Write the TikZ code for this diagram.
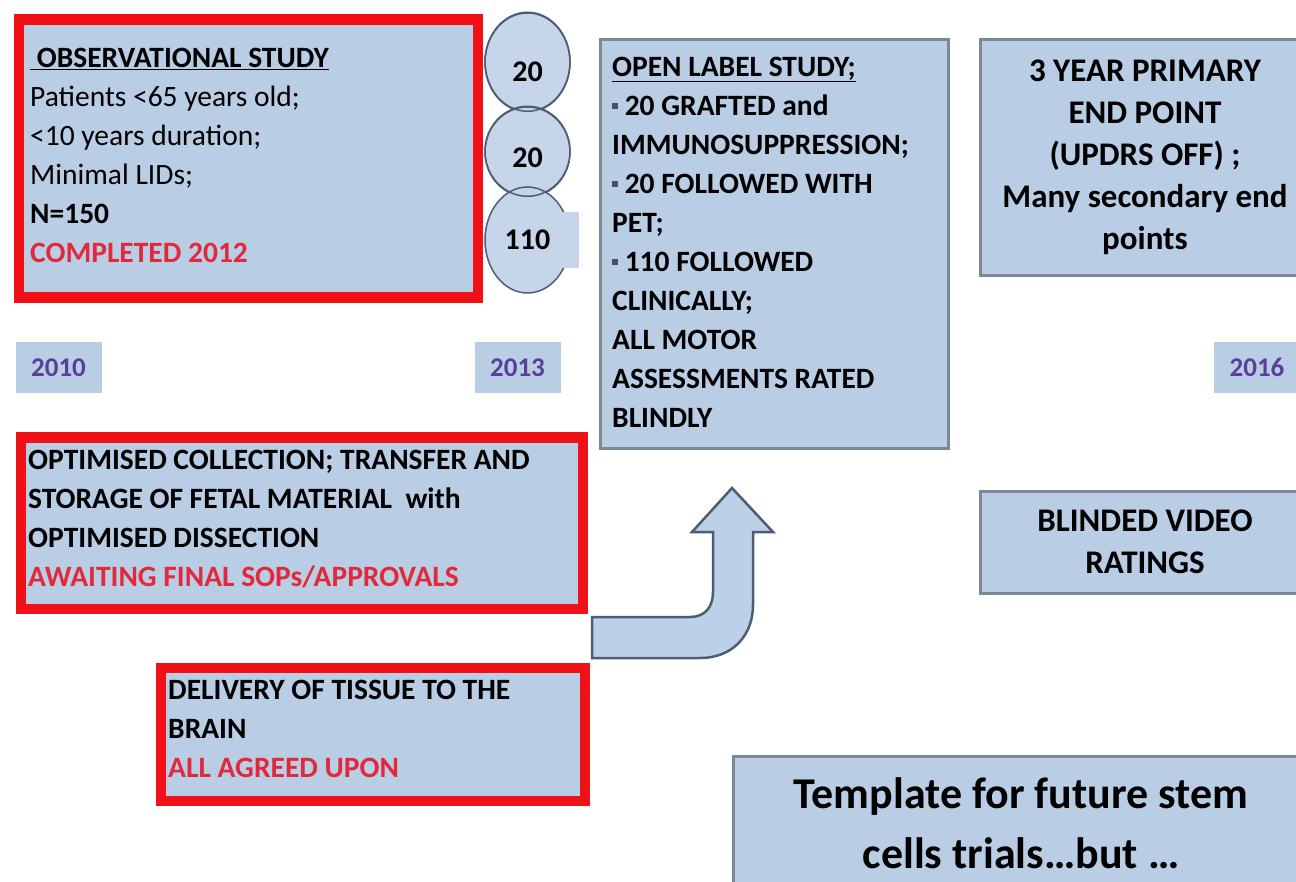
\documentclass[tikz,border=0pt]{standalone}
\usepackage{fontspec}
\setmainfont{Carlito}
\usetikzlibrary{shapes.geometric}
\definecolor{boxfill}{HTML}{B9CDE5}
\definecolor{boxline}{HTML}{7D8896}
\definecolor{redline}{HTML}{F01018}
\definecolor{redtext}{HTML}{E02A3C}
\definecolor{yeartext}{HTML}{5A3F96}
\definecolor{circfill}{HTML}{C6D5EA}
\definecolor{circline}{HTML}{4E5E72}
\definecolor{arrowfill}{HTML}{BCD0E8}
\newcommand{\mystrut}[1]{\rule{0pt}{#1}}
\newcommand{\sqbul}{\textcolor{boxline!60!black}{\rule[0.22em]{0.2em}{0.2em}}}
\begin{document}
\begin{tikzpicture}[x=1pt,y=-1pt,
  redbox/.style={draw=redline, line width=10.5pt, fill=boxfill, anchor=north west, inner sep=0pt},
  graybox/.style={draw=boxline, line width=3pt, fill=boxfill, anchor=north west, inner sep=0pt},
  yearbox/.style={fill=boxfill, inner sep=0pt, minimum width=86pt, minimum height=51pt,
     text=yeartext, font=\bfseries\fontsize{27}{30}\selectfont},
  circ/.style={ellipse, fill=circfill, draw=circline, line width=1.5pt, inner sep=0pt},
  circtxt/.style={inner sep=0pt, font=\bfseries\fontsize{30}{32}\selectfont},
  bodytxt/.style={anchor=north west, inner sep=0pt, align=left, font=\bfseries\fontsize{29.5}{39}\selectfont},
  ctrtxt/.style={anchor=north, inner sep=0pt, align=center, font=\bfseries\fontsize{33}{42}\selectfont},
  bigtxt/.style={anchor=north, inner sep=0pt, align=center, font=\bfseries\fontsize{44}{60}\selectfont},
  blockarrow/.style={fill=arrowfill, draw=circline, line width=2.5pt, line join=miter}
]
\useasboundingbox (0,0) rectangle (1296,882);
\fill[white] (0,0) rectangle (1296,882);

% red-bordered boxes
\node[redbox, minimum width=459pt, minimum height=278pt] (obs) at (13.5,14.5) {};
\node[redbox, minimum width=562pt, minimum height=171pt] (opt) at (15.5,432.5) {};
\node[redbox, minimum width=424pt, minimum height=133pt] (del) at (155.5,662.5) {};

% grey-bordered boxes
\node[graybox, minimum width=348pt, minimum height=408pt] (open) at (598.5,38.5) {};
\node[graybox, minimum width=345pt, minimum height=236pt] (prim) at (978.5,38.5) {};
\node[graybox, minimum width=345pt, minimum height=102pt] (blind) at (978.5,489.5) {};
\node[graybox, minimum width=590pt, minimum height=150pt] (tmpl) at (731.5,754.5) {};

% year labels
\node[yearbox] (y2010) at (58.5,367.5) {2010};
\node[yearbox] (y2013) at (517.5,367.5) {2013};
\node[yearbox] (y2016) at (1257,367.5) {2016};

% circles
\node[circ, minimum width=85pt, minimum height=99pt] (c1) at (527.5,62.5) {};
\node[circ, minimum width=85pt, minimum height=90pt] (c2) at (527.5,152) {};
\node[circ, minimum width=85pt, minimum height=106pt] (c3) at (527.5,240) {};
\draw[circline, line width=1.5pt] (c1.north) arc[start angle=90, end angle=-270, x radius=42.5, y radius=-49.5];
\draw[circline, line width=1.5pt] (c2.north) arc[start angle=90, end angle=-270, x radius=42.5, y radius=-45];
\fill[circfill] (c3.east) ++(-12,-28) rectangle ++(20,56);
\node[circtxt] (n1) at (527.5,72) {20};
\node[circtxt] (n2) at (527.5,158) {20};
\node[circtxt] (n3) at (527.5,240) {110};

% texts
\node[bodytxt] (obstxt) at (30,43) {\mystrut{24pt}\underline{\ OBSERVATIONAL STUDY}\\
  \mdseries Patients <65 years old;\\
  \mdseries <10 years duration;\\
  \mdseries Minimal LIDs;\\
  N=150\\
  \textcolor{redtext}{COMPLETED 2012}};

\node[bodytxt] (opttxt) at (28,445) {\mystrut{24pt}OPTIMISED COLLECTION; TRANSFER AND\\
  STORAGE OF FETAL MATERIAL \ with\\
  OPTIMISED DISSECTION\\
  \textcolor{redtext}{AWAITING FINAL SOPs/APPROVALS}};

\node[bodytxt] (deltxt) at (168,675) {\mystrut{24pt}DELIVERY OF TISSUE TO THE\\
  BRAIN\\
  \textcolor{redtext}{ALL AGREED UPON}};

\node[bodytxt] (opentxt) at (612,52) {\mystrut{24pt}\underline{OPEN LABEL STUDY;}\\
  \sqbul\ 20 GRAFTED and\\
  IMMUNOSUPPRESSION;\\
  \sqbul\ 20 FOLLOWED WITH\\
  PET;\\
  \sqbul\ 110 FOLLOWED\\
  CLINICALLY;\\
  ALL MOTOR\\
  ASSESSMENTS RATED\\
  BLINDLY};

\node[ctrtxt] (primtxt) at (1145,54) {\mystrut{27pt}3 YEAR PRIMARY\\
  END POINT\\
  (UPDRS OFF) ;\\
  Many secondary end\\
  points};

\node[ctrtxt] (blindtxt) at (1145,504) {\mystrut{27pt}BLINDED VIDEO\\ RATINGS};

\node[bigtxt] (tmpltxt) at (1021,772) {\mystrut{36pt}Template for future stem\\ cells trials\ldots but \ldots};

% curved block arrow from the lower boxes up to the open label study
\draw[blockarrow] (592,617) -- (690,617)
  .. controls (705,617) and (713,607) .. (713,592)
  -- (713,532) -- (692,532) -- (732,488) -- (773,532) -- (753,532) -- (753,605)
  .. controls (753,635) and (733,658) .. (700,658) -- (592,658) -- cycle;
\end{tikzpicture}
\end{document}
